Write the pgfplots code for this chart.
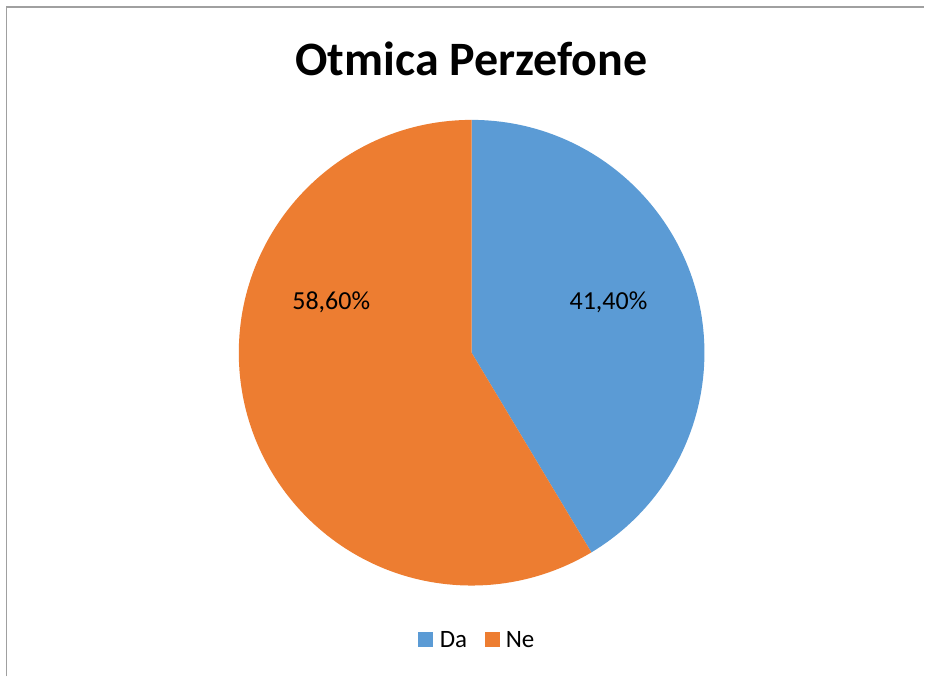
\documentclass[border=0pt]{standalone}
\usepackage{pgfplots}
\pgfplotsset{compat=1.18}
\usepackage{pgfplotstable}
\usepackage{fontspec}
\setmainfont{Carlito}
\definecolor{pieblue}{HTML}{5B9BD5}
\definecolor{pieorange}{HTML}{ED7D31}
\definecolor{frame}{HTML}{A0A0A0}
\pgfplotstableread{
label value
Da 41.4
Ne 58.6
}\piedata
\begin{document}
\begin{tikzpicture}
\pgfplotstablegetelem{0}{value}\of\piedata
\pgfmathsetmacro{\aEnd}{90-3.6*\pgfplotsretval}
\pgfmathsetmacro{\aEndB}{\aEnd+360}
\begin{axis}[x=1pt,y=1pt,xmin=0,xmax=925,ymin=0,ymax=677,
  hide axis,scale only axis,clip=false]
\fill[white] (axis cs:0,0) rectangle (axis cs:925,677);
\draw[frame,line width=1.5pt] (axis cs:6.5,0) -- (axis cs:6.5,670) -- (axis cs:925,670);
\fill[pieblue] (axis cs:472,324) -- (axis cs:472,557) arc[start angle=90,end angle=\aEnd,radius=233pt] -- cycle;
\fill[pieorange] (axis cs:472,324) -- (axis cs:472,557) arc[start angle=90,end angle=\aEndB,radius=233pt] -- cycle;
\node[anchor=base,font=\fontsize{48}{56}\selectfont\bfseries,inner sep=0pt] at (axis cs:472,601) {Otmica Perzefone};
\node[font=\fontsize{26}{31}\selectfont,inner sep=0pt] at (axis cs:609,374) {41,40\%};
\node[font=\fontsize{26}{31}\selectfont,inner sep=0pt] at (axis cs:331.5,374) {58,60\%};
\fill[pieblue] (axis cs:418,29) rectangle (axis cs:433,44);
\fill[pieorange] (axis cs:485,29) rectangle (axis cs:500,44);
\node[anchor=base west,font=\fontsize{25}{30}\selectfont,inner sep=0pt] at (axis cs:440,29) {Da};
\node[anchor=base west,font=\fontsize{25}{30}\selectfont,inner sep=0pt] at (axis cs:506,29) {Ne};
\end{axis}
\end{tikzpicture}
\end{document}
